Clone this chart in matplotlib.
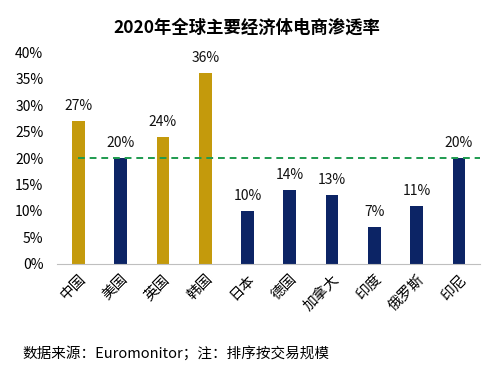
import matplotlib
matplotlib.use("Agg")
import matplotlib.pyplot as plt
import numpy as np

plt.rcParams['font.family'] = ['Noto Sans CJK SC', 'DejaVu Sans']

countries = ['中国', '美国', '英国', '韩国', '日本', '德国', '加拿大', '印度', '俄罗斯', '印尼']
rates = [27, 20, 24, 36, 10, 14, 13, 7, 11, 20]
highlight = [True, False, True, True, False, False, False, False, False, False]
ref_level = 20

gold = '#C49A0C'
navy = '#0C2465'

fig = plt.figure(figsize=(4.93, 3.68), dpi=100)
ax = fig.add_axes([0.116, 0.283, 0.858, 0.575])

x = np.arange(len(countries))
colors = [gold if h else navy for h in highlight]
ax.bar(x, rates, width=0.3, color=colors, zorder=2)

# value labels above bars
for xi, v in zip(x, rates):
    ax.text(xi, v + 1.5, f'{v}%', ha='center', va='bottom', fontsize=10, color='#111111')

# reference line at 20%
ax.plot([x[0], x[-1] + 0.5], [ref_level, ref_level], color='#1E9B4F',
        linestyle=(0, (3.5, 2.5)), linewidth=1.4, zorder=3)

ax.set_xlim(-0.5, len(countries) - 0.5)
ax.set_ylim(0, 40)
ax.set_yticks(range(0, 41, 5))
ax.set_yticklabels([f'{t}%' for t in range(0, 41, 5)], fontsize=10)
ax.set_xticks(x)
ax.set_xticklabels(countries, rotation=45, ha='right', rotation_mode='anchor', fontsize=10.5)
ax.tick_params(length=0, pad=6)
ax.tick_params(axis='y', pad=10)

for s in ['top', 'right', 'left']:
    ax.spines[s].set_visible(False)
ax.spines['bottom'].set_color('#BFBFBF')

fig.text(0.5, 0.925, '2020年全球主要经济体电商渗透率', ha='center', va='center',
         fontsize=12.5, fontweight='bold')
fig.text(0.045, 0.04, '数据来源：Euromonitor；注：排序按交易规模', ha='left', va='center',
         fontsize=10.5)

fig.savefig('out.png', dpi=100)
